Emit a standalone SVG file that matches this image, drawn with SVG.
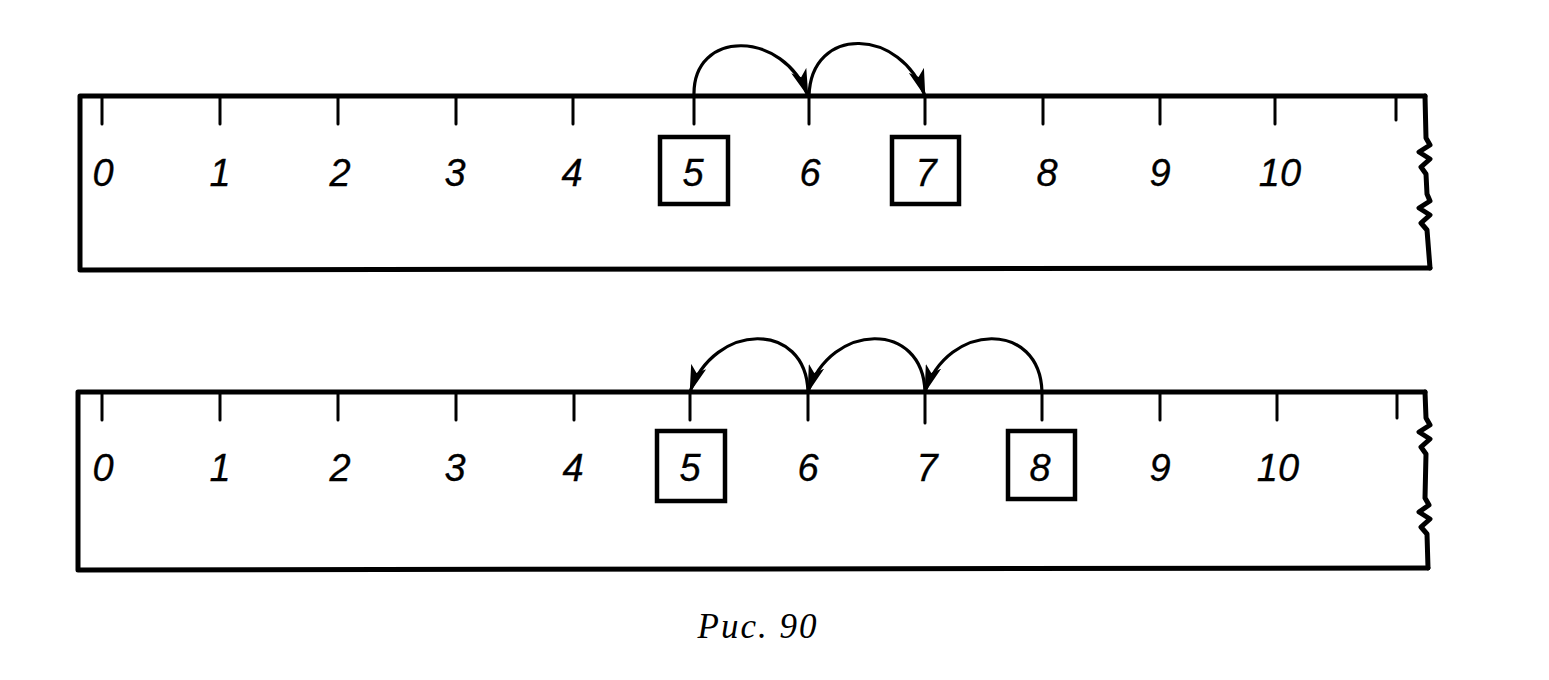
<svg xmlns="http://www.w3.org/2000/svg" width="1549" height="680" viewBox="0 0 1549 680">
<style>
.edge{fill:none;stroke:#000;stroke-width:5;stroke-linejoin:round;stroke-linecap:round}
.tick{stroke:#000;stroke-width:3;stroke-linecap:round}
.box{fill:none;stroke:#000;stroke-width:4.5}
.num{font-family:"Liberation Sans",Arial,sans-serif;font-style:italic;font-size:38px;fill:#000;stroke:#000;stroke-width:0.3;text-anchor:middle}
.arc{fill:none;stroke:#000;stroke-width:3.2}
.cap{font-family:"Liberation Serif","Times New Roman",serif;font-style:italic;font-size:35px;letter-spacing:2px;fill:#000;text-anchor:middle}
</style>
<defs>
<marker id="ah" markerUnits="userSpaceOnUse" markerWidth="30" markerHeight="16" refX="27" refY="8" orient="auto">
<path d="M0,0 L28,8 L0,16 L7,8 z" fill="#000"/>
</marker>
</defs>
<rect width="1549" height="680" fill="#fff"/>

<g id="ruler1">
<path class="edge" d="M1425,96 L80,96 L80,270 L1430,268"/>
<path class="edge" stroke-width="3.5" d="M1425,96 L1426,138 L1430,145 L1419,152 L1430,159 L1421,167 L1426,174 L1427,194 L1430,201 L1419,208 L1430,215 L1421,223 L1427,230 L1430,268"/>
<g class="tick">
<line x1="102" y1="96" x2="102" y2="124"/><line x1="220" y1="96" x2="220" y2="124"/>
<line x1="338" y1="96" x2="338" y2="124"/><line x1="456" y1="96" x2="456" y2="124"/>
<line x1="573" y1="96" x2="573" y2="124"/><line x1="694" y1="96" x2="694" y2="124"/>
<line x1="809" y1="96" x2="809" y2="124"/><line x1="925" y1="96" x2="925" y2="124"/>
<line x1="1043" y1="96" x2="1043" y2="124"/><line x1="1160" y1="96" x2="1160" y2="124"/>
<line x1="1275" y1="96" x2="1275" y2="124"/><line x1="1396" y1="96" x2="1396" y2="120"/>
</g>
<text class="num" x="103" y="186">0</text><text class="num" x="220" y="186">1</text>
<text class="num" x="340" y="186">2</text><text class="num" x="455" y="186">3</text>
<text class="num" x="572" y="186">4</text><text class="num" x="810" y="186">6</text>
<text class="num" x="1047" y="186">8</text><text class="num" x="1160" y="186">9</text>
<text class="num" x="1280" y="186">10</text>
</g>
<g id="box1-5"><rect class="box" x="660" y="137" width="68" height="67"/><text class="num" x="693" y="186">5</text></g>
<g id="box1-7"><rect class="box" x="892" y="137" width="67" height="67"/><text class="num" x="926" y="186">7</text></g>

<g id="ruler2">
<path class="edge" d="M1425,392 L78,392 L78,570 L1428,568"/>
<path class="edge" stroke-width="3.5" d="M1425,392 L1426,418 L1430,425 L1419,432 L1430,439 L1421,447 L1426,454 L1425,498 L1429,505 L1419,512 L1430,519 L1421,527 L1427,534 L1428,568"/>
<g class="tick">
<line x1="102" y1="392" x2="102" y2="420"/><line x1="220" y1="392" x2="220" y2="420"/>
<line x1="338" y1="392" x2="338" y2="420"/><line x1="456" y1="392" x2="456" y2="420"/>
<line x1="574" y1="392" x2="574" y2="420"/><line x1="690" y1="392" x2="690" y2="420"/>
<line x1="808" y1="392" x2="808" y2="420"/><line x1="925" y1="392" x2="925" y2="423"/>
<line x1="1042" y1="392" x2="1042" y2="420"/><line x1="1160" y1="392" x2="1160" y2="420"/>
<line x1="1277" y1="392" x2="1277" y2="420"/><line x1="1397" y1="392" x2="1397" y2="418"/>
</g>
<text class="num" x="103" y="481">0</text><text class="num" x="220" y="481">1</text>
<text class="num" x="340" y="481">2</text><text class="num" x="455" y="481">3</text>
<text class="num" x="573" y="481">4</text><text class="num" x="808" y="481">6</text>
<text class="num" x="927" y="481">7</text><text class="num" x="1160" y="481">9</text>
<text class="num" x="1278" y="481">10</text>
</g>
<g id="box2-5"><rect class="box" x="657" y="431" width="68" height="70"/><text class="num" x="690" y="481">5</text></g>
<g id="box2-8"><rect class="box" x="1008" y="431" width="67" height="68"/><text class="num" x="1040" y="481">8</text></g>

<g id="connectors">
<path class="arc" marker-end="url(#ah)" d="M694,96 C692,28 784,30 808,96"/>
<path class="arc" marker-end="url(#ah)" d="M809,96 C811,24 902,28 925,96"/>
<path class="arc" marker-end="url(#ah)" d="M1042,392 C1040,320 948,322 925,392"/>
<path class="arc" marker-end="url(#ah)" d="M925,392 C923,320 831,322 808,392"/>
<path class="arc" marker-end="url(#ah)" d="M808,392 C806,320 714,322 690,392"/>
</g>

<text class="cap" x="758" y="638">Рис. 90</text>
</svg>
